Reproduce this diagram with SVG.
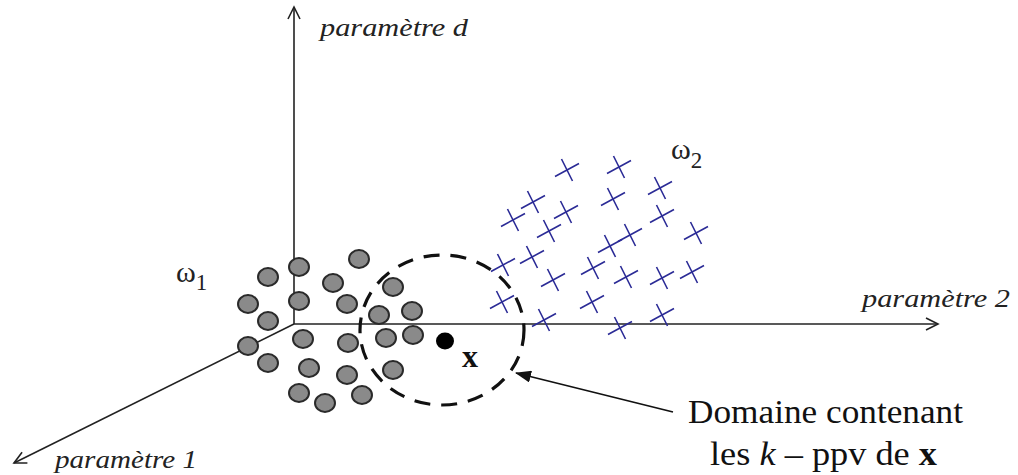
<svg xmlns="http://www.w3.org/2000/svg" xmlns:xlink="http://www.w3.org/1999/xlink" width="1018" height="475" viewBox="0 0 1018 475">
<style>
.axis{stroke:#222;stroke-width:1.6;fill:none}
.lbl{font-family:"Liberation Serif",serif;font-style:italic;font-size:26px;fill:#222}
.txt{font-family:"Liberation Serif",serif;font-size:34px;fill:#111}
.dot{fill:#8a8a8a;stroke:#2a2a2a;stroke-width:2}
.cross{stroke:#2b2b96;stroke-width:1.6;fill:none}
.om{font-family:"Liberation Serif",serif;font-size:30px;fill:#222}
.sub{font-size:23px}
</style>
<defs>
<marker id="open" markerWidth="16" markerHeight="16" refX="14" refY="8" orient="auto" markerUnits="userSpaceOnUse">
<path d="M2,2 L14,8 L2,14" fill="none" stroke="#222" stroke-width="1.6"/>
</marker>
<marker id="solid" markerWidth="16" markerHeight="12" refX="15" refY="6" orient="auto" markerUnits="userSpaceOnUse">
<path d="M0,0 L16,6 L0,12 Z" fill="#111"/>
</marker>
<path id="x" class="cross" d="M-12,6.5 L12,-6.5 M-5.5,-11 L5.5,11"/>
<ellipse id="g" class="dot" rx="10" ry="9"/>
</defs>
<rect width="1018" height="475" fill="#fff"/>
<g id="connectors">
<line class="axis" x1="294" y1="324" x2="294" y2="7" marker-end="url(#open)"/>
<line class="axis" x1="294" y1="324" x2="938" y2="324" marker-end="url(#open)"/>
<line class="axis" x1="294" y1="324" x2="14" y2="463" marker-end="url(#open)"/>
<line x1="673" y1="412" x2="516" y2="373" stroke="#111" stroke-width="1.8" marker-end="url(#solid)"/>
</g>
<g id="axis-labels">
<text class="lbl" x="320" y="36" textLength="148" lengthAdjust="spacingAndGlyphs">paramètre d</text>
<text class="lbl" x="862" y="307" textLength="148" lengthAdjust="spacingAndGlyphs">paramètre 2</text>
<text class="lbl" x="55" y="468" textLength="142" lengthAdjust="spacingAndGlyphs">paramètre 1</text>
</g>
<g id="class1">
<use href="#g" x="268" y="277"/><use href="#g" x="299" y="267"/><use href="#g" x="359" y="259"/>
<use href="#g" x="248" y="304"/><use href="#g" x="299" y="301"/><use href="#g" x="333" y="283"/>
<use href="#g" x="347" y="304"/><use href="#g" x="268" y="321"/><use href="#g" x="393" y="287"/>
<use href="#g" x="379" y="315"/><use href="#g" x="412" y="311"/>
<use href="#g" x="248" y="346"/><use href="#g" x="303" y="339"/><use href="#g" x="348" y="343"/>
<use href="#g" x="386" y="338"/><use href="#g" x="413" y="335"/>
<use href="#g" x="268" y="363"/><use href="#g" x="309" y="368"/><use href="#g" x="347" y="375"/>
<use href="#g" x="393" y="370"/><use href="#g" x="299" y="393"/><use href="#g" x="325" y="403"/>
<use href="#g" x="362" y="395"/>
<text class="om" x="176" y="282">ω<tspan class="sub" dy="8">1</tspan></text>
</g>
<g id="class2">
<use href="#x" x="567" y="170"/><use href="#x" x="619" y="167"/><use href="#x" x="660" y="188"/>
<use href="#x" x="533" y="202"/><use href="#x" x="566" y="212"/><use href="#x" x="613" y="199"/>
<use href="#x" x="513" y="220"/><use href="#x" x="549" y="231"/><use href="#x" x="662" y="216"/>
<use href="#x" x="696" y="233"/><use href="#x" x="630" y="235"/><use href="#x" x="610" y="246"/>
<use href="#x" x="532" y="257"/><use href="#x" x="503" y="265"/><use href="#x" x="593" y="268"/>
<use href="#x" x="553" y="280"/><use href="#x" x="626" y="277"/><use href="#x" x="662" y="278" style="stroke-width:2.6"/>
<use href="#x" x="692" y="272"/><use href="#x" x="502" y="302"/><use href="#x" x="592" y="302"/>
<use href="#x" x="544" y="320"/><use href="#x" x="620" y="328"/><use href="#x" x="662" y="315"/>
<text class="om" x="671" y="159">ω<tspan class="sub" dy="9">2</tspan></text>
</g>
<g id="neighbourhood">
<ellipse cx="442" cy="330" rx="82" ry="75" fill="none" stroke="#111" stroke-width="3.2" stroke-dasharray="16 11"/>
</g>
<g id="query">
<ellipse cx="445" cy="341" rx="9" ry="8.5" fill="#000"/>
<text x="462" y="367" font-family="Liberation Serif,serif" font-weight="bold" font-size="32" fill="#111">x</text>
</g>
<g id="annotation">
<text class="txt" x="688" y="423" textLength="275" lengthAdjust="spacingAndGlyphs">Domaine contenant</text>
<text class="txt" x="710" y="465" textLength="227" lengthAdjust="spacingAndGlyphs">les <tspan font-style="italic">k</tspan> – ppv de  <tspan font-weight="bold">x</tspan></text>
</g>
</svg>
